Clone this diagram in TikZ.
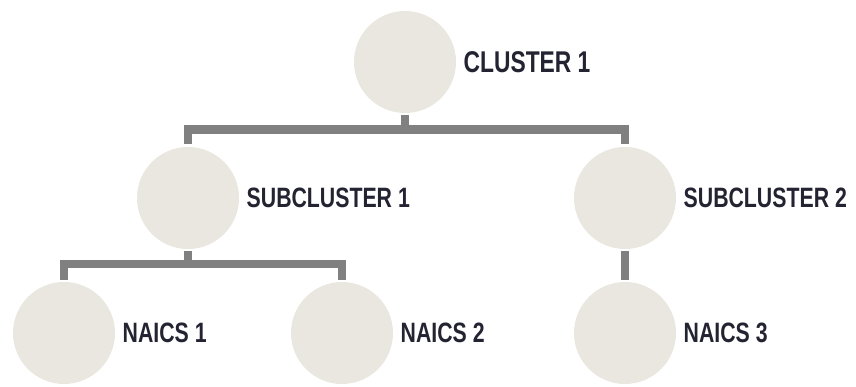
\documentclass[tikz,border=0pt]{standalone}
\usepackage{fontspec}
\setmainfont{Liberation Sans}[FakeStretch=0.76]
\definecolor{colcircle}{RGB}{233,231,223}
\definecolor{coledge}{RGB}{128,128,128}
\definecolor{coltext}{RGB}{35,35,50}
\usetikzlibrary{
	positioning
}
\tikzset{
	groupnode/.style={circle, fill=colcircle, minimum size=102pt, inner sep=0pt, outer sep=2.5pt},
	labelnode/.style={text=coltext, inner sep=0pt, font=\fontsize{28}{28}\selectfont\bfseries},
	treeedge/.style={draw=coledge, line width=8.5pt, line join=miter}
}

\begin{document}
\begin{tikzpicture}[x=1pt, y=-1pt]
	\useasboundingbox (0,0) rectangle (856,387);

	\node[groupnode] (c1) at (405,62) {};
	\node[groupnode] (s1) at (188,198) {};
	\node[groupnode] (s2) at (625,198) {};
	\node[groupnode] (n1) at (64,333) {};
	\node[groupnode] (n2) at (342,333) {};
	\node[groupnode] (n3) at (625,333) {};

	\node[labelnode, right=5pt of c1, font=\fontsize{30}{30}\selectfont\bfseries] (c1-text) {CLUSTER 1};
	\node[labelnode, right=5pt of s1] (s1-text) {SUBCLUSTER 1};
	\node[labelnode, right=5pt of s2] (s2-text) {SUBCLUSTER 2};
	\node[labelnode, right=5pt of n1] (n1-text) {NAICS 1};
	\node[labelnode, right=5pt of n2] (n2-text) {NAICS 2};
	\node[labelnode, right=5pt of n3] (n3-text) {NAICS 3};

	\coordinate (c1-bar) at (405,129.5);
	\coordinate (s1-bar) at (188,264);

	\path[treeedge]
		(c1.south) -- (c1-bar)
		(c1-bar) -| (s1.north)
		(c1-bar) -| (s2.north)
	;

	\path[treeedge]
		(s1.south) -- (s1-bar)
		(s1-bar) -| (n1.north)
		(s1-bar) -| (n2.north)
	;

	\path[treeedge]
		(s2.south) -- (n3.north)
	;
\end{tikzpicture}
\end{document}
